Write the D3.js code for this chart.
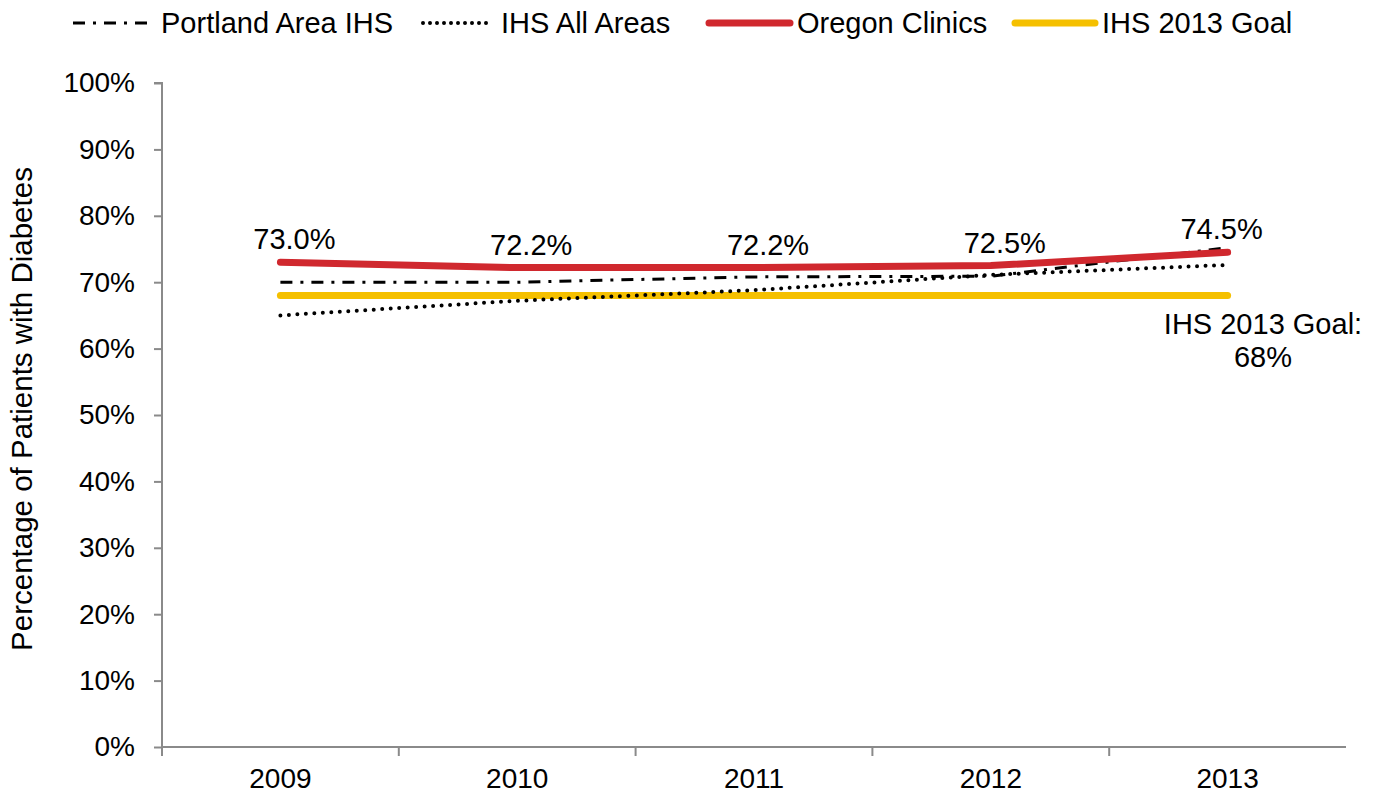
<!DOCTYPE html>
<html>
<head>
<meta charset="utf-8">
<title>Diabetes chart</title>
<script src="https://d3js.org/d3.v7.min.js"></script>
<style>
  body { margin: 0; background: #fff; }
  svg text { font-family: "Liberation Sans", Arial, sans-serif; fill: #000; }
</style>
</head>
<body>
<svg id="chart" width="1380" height="800"></svg>
<script>
// ---- data ----
var years = ["2009", "2010", "2011", "2012", "2013"];
var portland = [70.0, 70.0, 70.8, 70.9, 75.2];
var ihsAll = [65.0, 67.2, 68.8, 71.1, 72.6];
var oregon = [73.0, 72.2, 72.2, 72.5, 74.5];
var goal = [68, 68, 68, 68, 68];
var yTicks = [0, 10, 20, 30, 40, 50, 60, 70, 80, 90, 100];

var svg = d3.select("#chart");
var plotL = 162, plotR = 1346, plotT = 83, plotB = 747;

var x = d3.scaleBand().domain(years).range([plotL, plotR]);
var y = d3.scaleLinear().domain([0, 100]).range([plotB, plotT]);

// y axis
var yAxis = svg.append("g")
  .attr("transform", "translate(" + plotL + ",0)")
  .call(d3.axisLeft(y).tickValues(yTicks).tickSize(8).tickPadding(19).tickFormat(function(d){ return d + "%"; }));
yAxis.selectAll("text").style("font-size", "28px");

// x axis, ticks between categories
var xAxis = svg.append("g")
  .attr("transform", "translate(0," + plotB + ")")
  .call(d3.axisBottom(x).tickSize(0).tickPadding(21));
xAxis.selectAll("text").style("font-size", "28px");
xAxis.selectAll(".tick")
  .append("line")
  .attr("x1", -x.bandwidth() / 2).attr("x2", -x.bandwidth() / 2)
  .attr("y1", 0).attr("y2", 9);
xAxis.append("line")
  .attr("x1", plotR).attr("x2", plotR).attr("y1", 0).attr("y2", 9);

svg.selectAll(".domain, .tick line")
  .attr("stroke", "#8a8a8a").attr("stroke-width", 2);
xAxis.select(".domain").attr("d", "M" + plotL + ",0H" + plotR);
yAxis.select(".domain").attr("d", "M-8," + plotT + "H0V" + plotB);

// y axis title
svg.append("text")
  .attr("transform", "translate(32," + ((plotT + plotB) / 2 - 6) + ")rotate(-90)")
  .attr("text-anchor", "middle")
  .style("font-size", "29.5px")
  .text("Percentage of Patients with Diabetes");

var cx = function(i){ return x(years[i]) + x.bandwidth() / 2; };
var line = d3.line().x(function(d, i){ return cx(i); }).y(function(d){ return y(d); });

var series = [
  { name: "Portland Area IHS", values: portland, color: "#000", width: 3, dash: "12,8,3,8", cap: "butt" },
  { name: "IHS All Areas", values: ihsAll, color: "#000", width: 4, dash: "0,8.5", cap: "round" },
  { name: "Oregon Clinics", values: oregon, color: "#d0282e", width: 7, dash: null, cap: "round" },
  { name: "IHS 2013 Goal", values: goal, color: "#f5c000", width: 7, dash: null, cap: "round" }
];

// draw goal first, then the others on top
var drawOrder = [3, 0, 1, 2];
drawOrder.forEach(function(k){
  var s = series[k];
  svg.append("path")
    .attr("d", line(s.values))
    .attr("fill", "none")
    .attr("stroke", s.color)
    .attr("stroke-width", s.width)
    .attr("stroke-linecap", s.cap)
    .attr("stroke-dasharray", s.dash);
});

// data labels for Oregon Clinics
svg.selectAll(".lbl")
  .data(oregon)
  .enter().append("text")
  .attr("class", "lbl")
  .attr("x", function(d, i){ return cx(i) + (i === 4 ? -6 : 14); })
  .attr("y", function(d){ return y(d) - 13; })
  .attr("text-anchor", "middle")
  .style("font-size", "29px")
  .text(function(d){ return d.toFixed(1) + "%"; });

// goal annotation
var goalLbl = svg.append("text")
  .attr("x", 1263)
  .attr("y", y(goal[4]) + 39)
  .attr("text-anchor", "middle")
  .style("font-size", "29px");
goalLbl.append("tspan").attr("x", 1263).text("IHS 2013 Goal:");
goalLbl.append("tspan").attr("x", 1263).attr("dy", 33).text(goal[4] + "%");

// legend
var legendX = [73, 423, 709, 1015];
var legendW = [77, 67, 81, 80];
var legend = svg.append("g");
series.forEach(function(s, i){
  var g = legend.append("g").attr("transform", "translate(" + legendX[i] + ",23)");
  g.append("line")
    .attr("x1", 0).attr("x2", legendW[i])
    .attr("stroke", s.color)
    .attr("stroke-width", s.width)
    .attr("stroke-linecap", s.cap)
    .attr("stroke-dasharray", i === 1 ? "0,7" : s.dash);
  g.append("text")
    .attr("x", legendW[i] + (i < 2 ? 11 : 7))
    .attr("dy", "0.35em")
    .style("font-size", "29px")
    .text(s.name);
});
</script>
</body>
</html>
